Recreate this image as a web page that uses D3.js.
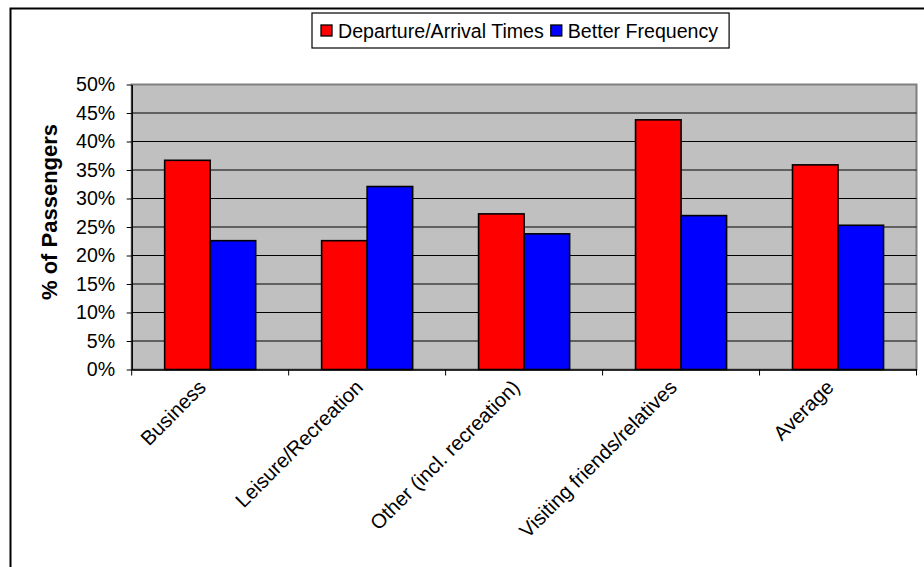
<!DOCTYPE html>
<html>
<head>
<meta charset="utf-8">
<script src="https://cdn.jsdelivr.net/npm/d3@7"></script>
<style>
  html, body { margin: 0; padding: 0; background: #ffffff; }
  svg { display: block; }
  text { font-family: "Liberation Sans", Arial, sans-serif; fill: #000; }
</style>
</head>
<body>
<div id="chart"></div>
<script>
// ---- data ----
const categories = ["Business", "Leisure/Recreation", "Other (incl. recreation)", "Visiting friends/relatives", "Average"];
const seriesNames = ["Departure/Arrival Times", "Better Frequency"];
const departureArrival = [36.7, 22.6, 27.3, 43.8, 35.9];
const betterFrequency = [22.6, 32.1, 23.8, 27.0, 25.3];
const seriesColors = ["#ff0000", "#0000ff"];
const yTickValues = [0, 5, 10, 15, 20, 25, 30, 35, 40, 45, 50];
const yAxisTitle = "% of Passengers";

// ---- layout ----
const W = 924, H = 567;
const plot = { left: 131.7, right: 916.5, top: 84.5, bottom: 369.5 };
const FS = 19.6;

const svg = d3.select("#chart").append("svg").attr("width", W).attr("height", H);
const root = svg.append("g");

// outer chart border
root.append("rect")
  .attr("x", 10.5).attr("y", 8.5)
  .attr("width", 2000).attr("height", 2000)
  .attr("fill", "none").attr("stroke", "#000").attr("stroke-width", 2);

// scales
const x0 = d3.scaleBand().domain(categories)
  .range([plot.left, plot.right])
  .paddingInner(0.42).paddingOuter(0.21);
const x1 = d3.scaleBand().domain(seriesNames).range([0, x0.bandwidth()]);
const y = d3.scaleLinear().domain([0, 50]).range([plot.bottom, plot.top]);

// plot background
root.append("rect")
  .attr("x", plot.left).attr("y", plot.top)
  .attr("width", plot.right - plot.left).attr("height", plot.bottom - plot.top)
  .attr("fill", "#c0c0c0").attr("stroke", "#808080").attr("stroke-width", 2);

// gridlines
root.append("g").selectAll("line")
  .data(yTickValues.filter(d => d > 0 && d < 50))
  .join("line")
  .attr("x1", plot.left).attr("x2", plot.right)
  .attr("y1", d => y(d)).attr("y2", d => y(d))
  .attr("stroke", "#000").attr("stroke-width", 1);

// bars
const rows = categories.map((c, i) => ({ cat: c, values: [departureArrival[i], betterFrequency[i]] }));
const groups = root.append("g").selectAll("g").data(rows).join("g")
  .attr("transform", d => `translate(${x0(d.cat)},0)`);
groups.selectAll("rect")
  .data(d => d.values.map((v, j) => ({ name: seriesNames[j], v, j })))
  .join("rect")
  .attr("x", d => x1(d.name))
  .attr("y", d => y(d.v))
  .attr("width", x1.bandwidth())
  .attr("height", d => y(0) - y(d.v))
  .attr("fill", d => seriesColors[d.j])
  .attr("stroke", "#000").attr("stroke-width", 1.6);

// y axis
const yAxis = root.append("g")
  .attr("transform", `translate(${plot.left},0)`)
  .call(d3.axisLeft(y).tickValues(yTickValues).tickFormat(d => d + "%")
    .tickSize(5).tickSizeOuter(0).tickPadding(11.5));
yAxis.select(".domain").attr("stroke", "#000").attr("stroke-width", 1.5);
yAxis.selectAll(".tick line").attr("stroke", "#000");
yAxis.selectAll(".tick text").attr("font-size", FS).attr("fill", "#000")
  .attr("font-family", "'Liberation Sans', Arial, sans-serif");

// x axis
const xAxis = root.append("g")
  .attr("transform", `translate(0,${plot.bottom})`)
  .call(d3.axisBottom(x0).tickSize(0).tickSizeOuter(0));
xAxis.select(".domain").attr("stroke", "#000").attr("stroke-width", 1.5);
xAxis.selectAll(".tick text")
  .attr("font-size", 20.3)
  .attr("font-family", "'Liberation Sans', Arial, sans-serif")
  .attr("text-anchor", "end")
  .attr("x", 0).attr("y", 0).attr("dy", 0)
  .attr("transform", "translate(-3,19) rotate(-45)");

// category boundary ticks
const boundaries = categories.map((c, i) => plot.left + i * x0.step());
boundaries.push(plot.right);
root.append("g").selectAll("line").data(boundaries).join("line")
  .attr("x1", d => d).attr("x2", d => d)
  .attr("y1", plot.bottom).attr("y2", plot.bottom + 6)
  .attr("stroke", "#000").attr("stroke-width", 1);

// y axis title
root.append("text")
  .attr("transform", `translate(57,212) rotate(-90)`)
  .attr("text-anchor", "middle")
  .attr("font-size", 22).attr("font-weight", "bold")
  .text(yAxisTitle);

// legend
const lg = root.append("g");
const lgLeft = 312, lgTop = 13, lgH = 35;
const lgBox = lg.append("rect")
  .attr("x", lgLeft).attr("y", lgTop).attr("height", lgH)
  .attr("fill", "#fff").attr("stroke", "#000").attr("stroke-width", 1.2);
let cursor = lgLeft + 9;
seriesNames.forEach((name, j) => {
  lg.append("rect")
    .attr("x", cursor).attr("y", lgTop + 12)
    .attr("width", 11).attr("height", 11)
    .attr("fill", seriesColors[j]).attr("stroke", "#000").attr("stroke-width", 1.3);
  const t = lg.append("text")
    .attr("x", cursor + 17).attr("y", lgTop + 24.5)
    .attr("font-size", FS)
    .text(name);
  cursor = cursor + 17 + t.node().getComputedTextLength() + 7;
});
lgBox.attr("width", cursor - lgLeft + 4);
</script>
</body>
</html>
